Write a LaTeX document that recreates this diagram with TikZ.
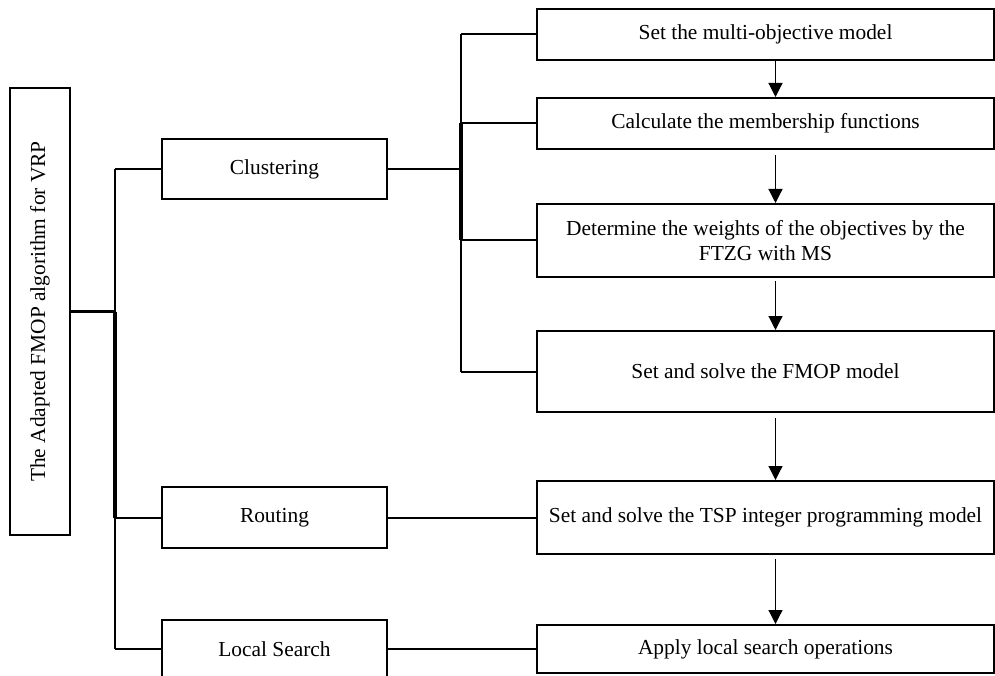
\documentclass[tikz,border=0pt]{standalone}
\usepackage{fontspec}
\setmainfont{Liberation Serif}
\usepackage{graphicx}
\usetikzlibrary{positioning, arrows.meta}

\begin{document}
\begin{tikzpicture}[
  x=1pt, y=-1pt,
  font=\fontsize{21.4}{25}\selectfont,
  box/.style={draw, line width=2pt, align=center, minimum width=225pt, minimum height=60pt, inner sep=0pt},
  stepbox/.style={draw, line width=2pt, align=center, minimum width=457pt, inner sep=0pt},
  link/.style={line width=2pt},
  arr/.style={-{Triangle[width=14pt, length=14pt]}, line width=1.2pt}
]
\useasboundingbox (0,0) rectangle (995,676);
\node[draw, line width=2pt, minimum width=60pt, minimum height=447pt, inner sep=0pt] (algo) at (40,311.5) {\rotatebox{90}{The Adapted FMOP algorithm for VRP}};
\node[box] (clus) at (274.5,169) {Clustering};
\node[box, minimum height=61pt, below=286pt of clus] (rout) {Routing};
\node[box, minimum height=58pt, below=70pt of rout] (ls) {Local Search};
\node[stepbox, minimum height=51pt] (s1) at (765.5,34.5) {Set the multi-objective model};
\node[stepbox, minimum height=51pt, below=36pt of s1] (s2) {Calculate the membership functions};
\node[stepbox, minimum height=73pt, below=53pt of s2] (s3) {Determine the weights of the objectives by the\\FTZG with MS};
\node[stepbox, minimum height=81pt, below=52pt of s3] (s4) {Set and solve the FMOP model};
\node[stepbox, minimum height=73pt, below=67pt of s4] (s5) {Set and solve the TSP integer programming model};
\node[stepbox, minimum height=48pt, below=69pt of s5] (s6) {Apply local search operations};
\coordinate (tr) at (115,0);
\coordinate (br) at (461,0);
\draw[line width=3pt] (algo.east) -- (algo.east -| tr);
\draw[link] (tr |- clus.west) -- (tr |- ls.west);
\draw[line width=4pt] (tr |- algo.east) -- (tr |- rout.west);
\foreach \n in {clus,rout,ls}
  \draw[link] (tr |- \n.west) -- (\n.west);
\draw[link] (clus.east) -- (clus.east -| br);
\draw[link] (br |- s1.west) -- (br |- s4.west);
\draw[line width=4.5pt] (br |- s2.west) -- (br |- s3.west);
\foreach \n in {s1,s2,s3,s4}
  \draw[link] (br |- \n.west) -- (\n.west);
\draw[link] (rout) -- (s5);
\draw[link] (ls) -- (s6);
\foreach \a/\b/\g in {s1/s2/0,s2/s3/5,s3/s4/3,s4/s5/5,s5/s6/4}
  \draw[arr, shorten <=\g pt] ([xshift=10pt]\a.south) -- ([xshift=10pt]\b.north);
\end{tikzpicture}
\end{document}
